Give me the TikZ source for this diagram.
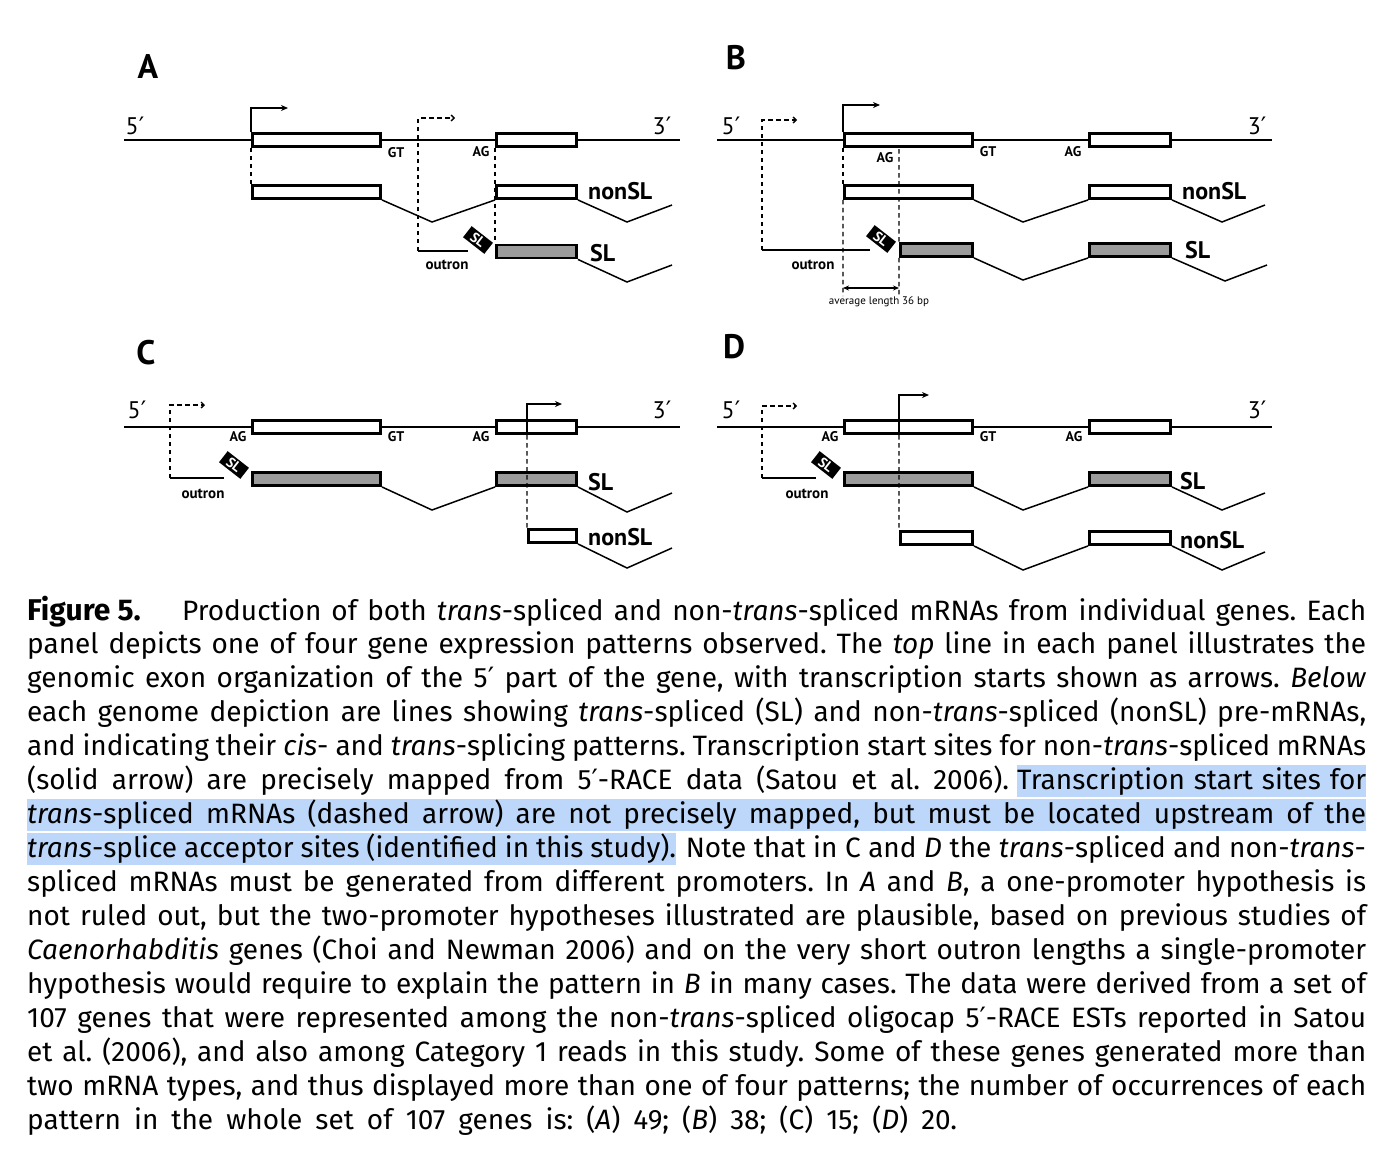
\documentclass[tikz,border=0pt]{standalone}
\usepackage{fontspec}
\setmainfont{PT Sans}
\newfontfamily\capfont{Fira Sans}
\newfontfamily\symf{DejaVu Sans}
\usetikzlibrary{arrows.meta}
\definecolor{exgray}{RGB}{155,155,155}
\definecolor{hl}{RGB}{188,215,250}
\newcommand{\prm}{{\symf ′}}
\newcommand{\capl}[1]{\makebox[1339pt][s]{#1}}
\frenchspacing
\begin{document}
\begin{tikzpicture}[x=1pt,y=-1pt,
  exon/.style={draw, line width=2.9pt, fill=white, inner sep=0pt, minimum height=13pt},
  gexon/.style={exon, fill=exgray},
  gline/.style={line width=1.5pt},
  dline/.style={line width=1.3pt, dash pattern=on 4.5pt off 3.5pt},
  tss/.style={line width=1.5pt, -{Stealth[length=7pt,width=6pt]}},
  dtss/.style={dline, -{Straight Barb[length=3pt,width=6pt]}},
  dblarr/.style={line width=1.2pt, {Stealth[length=6pt,width=5pt]}-{Stealth[length=6pt,width=5pt]}},
  panel/.style={font=\fontsize{34}{34}\selectfont\bfseries, inner sep=0pt},
  lab5/.style={font=\fontsize{24}{24}\selectfont, inner sep=0pt},
  small/.style={font=\fontsize{14}{14}\selectfont\bfseries, inner sep=0pt},
  orlab/.style={font=\fontsize{15}{15}\selectfont\bfseries, inner sep=0pt},
  rowlab/.style={font=\fontsize{24}{24}\selectfont\bfseries, inner sep=0pt, anchor=west},
  avg/.style={font=\fontsize{11}{11}\selectfont, inner sep=0pt},
  sltag/.style={fill=black, text=white, font=\fontsize{14}{14}\selectfont\bfseries, rotate=-38, inner sep=0pt, minimum width=27pt, minimum height=14pt},
  capt/.style={anchor=base west, inner sep=0pt, font=\capfont\fontsize{28}{34}\selectfont},
  hlbox/.style={fill=hl, text height=25pt, text depth=7pt}
]
\fill[white] (0,0) rectangle (1396,1152);
\useasboundingbox (0,0) rectangle (1396,1152);

%% ================= Panel A =================
\node[panel] (pA) at (148,67) {A};
\coordinate (gA5) at (124,140); \coordinate (gA3) at (680,140);
\draw[gline] (gA5) -- (gA3);
\node[lab5] (fA5) at (135,126) {5\prm};
\node[lab5] (tA3) at (662,126) {3\prm};
\node[exon, minimum width=128pt] (eA1) at (316.5,140) {};
\node[exon, minimum width=80pt] (eA2) at (536.5,140) {};
\node[exon, minimum width=128pt] (nA1) at (316.5,192) {};
\node[exon, minimum width=80pt] (nA2) at (536.5,192) {};
\node[gexon, minimum width=80pt] (sA2) at (536.5,251.5) {};
\node[small] (gtA) at (396,153) {GT};
\node[small] (agA) at (481,152) {AG};
\node[rowlab] (nlA) at (588,191) {nonSL};
\node[rowlab] (slA) at (590,253) {SL};
\coordinate (tsA) at (288,108);
\draw[tss] (eA1.north west) |- (tsA);
\coordinate (oA) at (418,251); \coordinate (dA) at (455,118); \coordinate (oeA) at (468,251);
\draw[dtss] (oA) |- (dA);
\draw[gline] (oA) -- (oeA);
\node[sltag] (tgA) at (478,240) {SL};
\node[orlab] (orA) at (447,265) {outron};
\draw[dline] (eA1.south west) -- (nA1.north west);
\draw[dline] (eA2.south west) -- (sA2.north west);
\coordinate (vA1) at (432,222); \coordinate (vA2) at (627,222); \coordinate (vA3) at (672,205);
\draw[gline] (nA1.south east) -- (vA1) -- (nA2.south west);
\draw[gline] (nA2.south east) -- (vA2) -- (vA3);
\coordinate (wA2) at (627,282); \coordinate (wA3) at (672,265);
\draw[gline] (sA2.south east) -- (wA2) -- (wA3);

%% ================= Panel B =================
\node[panel] (pB) at (736,58) {B};
\coordinate (gB5) at (717,140); \coordinate (gB3) at (1272,140);
\draw[gline] (gB5) -- (gB3);
\node[lab5] (fB5) at (731,126) {5\prm};
\node[lab5] (tB3) at (1257,126) {3\prm};
\node[exon, minimum width=128pt] (eB1) at (908.5,140) {};
\node[exon, minimum width=81pt] (eB2) at (1130,140) {};
\node[exon, minimum width=128pt] (nB1) at (908.5,192) {};
\node[exon, minimum width=81pt] (nB2) at (1130,192) {};
\node[gexon, minimum width=72pt] (sB1) at (936.5,250) {};
\node[gexon, minimum width=81pt] (sB2) at (1130,250) {};
\node[small] (agB1) at (885,158) {AG};
\node[small] (gtB) at (988,152) {GT};
\node[small] (agB2) at (1073,152) {AG};
\node[rowlab] (nlB) at (1182,191) {nonSL};
\node[rowlab] (slB) at (1185,250) {SL};
\coordinate (tsB) at (880,105);
\draw[tss] (eB1.north west) |- (tsB);
\coordinate (oB) at (762,250); \coordinate (dB) at (797,120); \coordinate (oeB) at (870,250);
\draw[dtss] (oB) |- (dB);
\draw[gline] (oB) -- (oeB);
\node[sltag] (tgB) at (881,239) {SL};
\node[orlab] (orB) at (813,265) {outron};
\coordinate (agcB) at (899,149);
\coordinate (avL) at (843,296); \coordinate (avR) at (899,296);
\draw[dline] (eB1.south west) -- (nB1.north west);
\draw[dline] (nB1.south west) -- (avL);
\draw[dline] (agcB) -- (sB1.north west);
\draw[dline] (sB1.south west) -- (avR);
\coordinate (aL) at (843,288); \coordinate (aR) at (899,288);
\draw[dblarr] (aL) -- (aR);
\node[avg] (avB) at (879,302) {average length 36 bp};
\coordinate (vB1) at (1023,222); \coordinate (vB2) at (1222,222); \coordinate (vB3) at (1265,205);
\draw[gline] (nB1.south east) -- (vB1) -- (nB2.south west);
\draw[gline] (nB2.south east) -- (vB2) -- (vB3);
\coordinate (wB1) at (1023,280); \coordinate (wB2) at (1225,281); \coordinate (wB3) at (1267,265);
\draw[gline] (sB1.south east) -- (wB1) -- (sB2.south west);
\draw[gline] (sB2.south east) -- (wB2) -- (wB3);

%% ================= Panel C =================
\node[panel] (pC) at (146,353) {C};
\coordinate (gC5) at (124,427); \coordinate (gC3) at (680,427);
\draw[gline] (gC5) -- (gC3);
\node[lab5] (fC5) at (137,410) {5\prm};
\node[lab5] (tC3) at (662,410) {3\prm};
\node[exon, minimum width=128pt] (eC1) at (316.5,427) {};
\node[exon, minimum width=80pt] (eC2) at (536.5,427) {};
\node[gexon, minimum width=128pt] (sC1) at (316.5,479) {};
\node[gexon, minimum width=80pt] (sC2) at (536.5,479) {};
\node[exon, minimum width=48pt] (nC) at (552.5,536) {};
\node[small] (agC1) at (238,437) {AG};
\node[small] (gtC) at (396,437) {GT};
\node[small] (agC2) at (481,437) {AG};
\node[rowlab] (slC) at (588,482) {SL};
\node[rowlab] (nlC) at (588,537) {nonSL};
\coordinate (oC) at (170,478); \coordinate (dC) at (205,405); \coordinate (oeC) at (224,478);
\draw[dtss] (oC) |- (dC);
\draw[gline] (oC) -- (oeC);
\node[sltag] (tgC) at (234,465) {SL};
\node[orlab] (orC) at (203,494) {outron};
\coordinate (sCp) at (527,435); \coordinate (tsC) at (562,404);
\draw[tss] (sCp) |- (tsC);
\draw[dline] (sCp) -- (nC.north west);
\coordinate (wC1) at (432,510); \coordinate (wC2) at (627,512); \coordinate (wC3) at (672,493);
\draw[gline] (sC1.south east) -- (wC1) -- (sC2.south west);
\draw[gline] (sC2.south east) -- (wC2) -- (wC3);
\coordinate (vC2) at (627,568); \coordinate (vC3) at (672,548);
\draw[gline] (nC.south east) -- (vC2) -- (vC3);

%% ================= Panel D =================
\node[panel] (pD) at (734,347) {D};
\coordinate (gD5) at (717,427); \coordinate (gD3) at (1272,427);
\draw[gline] (gD5) -- (gD3);
\node[lab5] (fD5) at (731,410) {5\prm};
\node[lab5] (tD3) at (1257,410) {3\prm};
\node[exon, minimum width=128pt] (eD1) at (908.5,427) {};
\node[exon, minimum width=81pt] (eD2) at (1130,427) {};
\node[gexon, minimum width=128pt] (sD1) at (908.5,479) {};
\node[gexon, minimum width=81pt] (sD2) at (1130,479) {};
\node[exon, minimum width=72pt] (nD1) at (936.5,538) {};
\node[exon, minimum width=81pt] (nD2) at (1130,538) {};
\node[small] (agD1) at (830,437) {AG};
\node[small] (gtD) at (988,437) {GT};
\node[small] (agD2) at (1074,437) {AG};
\node[rowlab] (slD) at (1180,481) {SL};
\node[rowlab] (nlD) at (1180,540) {nonSL};
\coordinate (oD) at (762,478); \coordinate (dD) at (797,406); \coordinate (oeD) at (816,478);
\draw[dtss] (oD) |- (dD);
\draw[gline] (oD) -- (oeD);
\node[sltag] (tgD) at (826,465) {SL};
\node[orlab] (orD) at (807,494) {outron};
\coordinate (sDp) at (899,435); \coordinate (tsD) at (929,395);
\draw[tss] (sDp) |- (tsD);
\draw[dline] (sDp) -- (nD1.north west);
\coordinate (wD1) at (1023,510); \coordinate (wD2) at (1222,510); \coordinate (wD3) at (1265,493);
\draw[gline] (sD1.south east) -- (wD1) -- (sD2.south west);
\draw[gline] (sD2.south east) -- (wD2) -- (wD3);
\coordinate (vD1) at (1023,570); \coordinate (vD2) at (1222,570); \coordinate (vD3) at (1265,552);
\draw[gline] (nD1.south east) -- (vD1) -- (nD2.south west);
\draw[gline] (nD2.south east) -- (vD2) -- (vD3);

%% ================= Caption =================
\node[capt] (c1) at (27,620) {\capl{\makebox[155pt][l]{\fontsize{30}{34}\selectfont\bfseries Figure 5.}Production of both \textit{trans}-spliced and non-\textit{trans}-spliced mRNAs from individual genes. Each}};
\node[capt] (c2) at (27,653.9) {\capl{panel depicts one of four gene expression patterns observed. The \textit{top} line in each panel illustrates the}};
\node[capt] (c3) at (27,687.9) {\capl{genomic exon organization of the 5\prm\ part of the gene, with transcription starts shown as arrows. \textit{Below}}};
\node[capt] (c4) at (27,721.8) {\capl{each genome depiction are lines showing \textit{trans}-spliced (SL) and non-\textit{trans}-spliced (nonSL) pre-mRNAs,}};
\node[capt] (c5) at (27,755.7) {\capl{and indicating their \textit{cis}- and \textit{trans}-splicing patterns. Transcription start sites for non-\textit{trans}-spliced mRNAs}};
\node[capt] (c6a) at (27,789.7) {\makebox[982pt][s]{(solid arrow) are precisely mapped from 5\prm-RACE data (Satou et al. 2006).}};
\node[capt, hlbox] (c6b) at (1017,789.7) {\makebox[349pt][s]{Transcription start sites for}};
\node[capt, hlbox] (c7) at (27,823.6) {\capl{\textit{trans}-spliced mRNAs (dashed arrow) are not precisely mapped, but must be located upstream of the}};
\node[capt, hlbox] (c8a) at (27,857.5) {\makebox[649pt][s]{\textit{trans}-splice acceptor sites (identified in this study).}};
\node[capt, anchor=base east] (c8b) at (1366,857.5) {\makebox[680pt][s]{Note that in C and \textit{D} the \textit{trans}-spliced and non-\textit{trans}-}};
\node[capt] (c9) at (27,891.4) {\capl{spliced mRNAs must be generated from different promoters. In \textit{A} and \textit{B}, a one-promoter hypothesis is}};
\node[capt] (c10) at (27,925.4) {\capl{not ruled out, but the two-promoter hypotheses illustrated are plausible, based on previous studies of}};
\node[capt] (c11) at (27,959.3) {\capl{\textit{Caenorhabditis} genes (Choi and Newman 2006) and on the very short outron lengths a single-promoter}};
\node[capt] (c12) at (27,993.2) {\capl{hypothesis would require to explain the pattern in \textit{B} in many cases. The data were derived from a set of}};
\node[capt] (c13) at (27,1027.2) {\capl{107 genes that were represented among the non-\textit{trans}-spliced oligocap 5\prm-RACE ESTs reported in Satou}};
\node[capt] (c14) at (27,1061.1) {\capl{et al. (2006), and also among Category 1 reads in this study. Some of these genes generated more than}};
\node[capt] (c15) at (27,1095.0) {\capl{two mRNA types, and thus displayed more than one of four patterns; the number of occurrences of each}};
\node[capt] (c16) at (27,1129.0) {\makebox[930pt][s]{pattern in the whole set of 107 genes is: (\textit{A}) 49; (\textit{B}) 38; (C) 15; (\textit{D}) 20.}};
\end{tikzpicture}
\end{document}
